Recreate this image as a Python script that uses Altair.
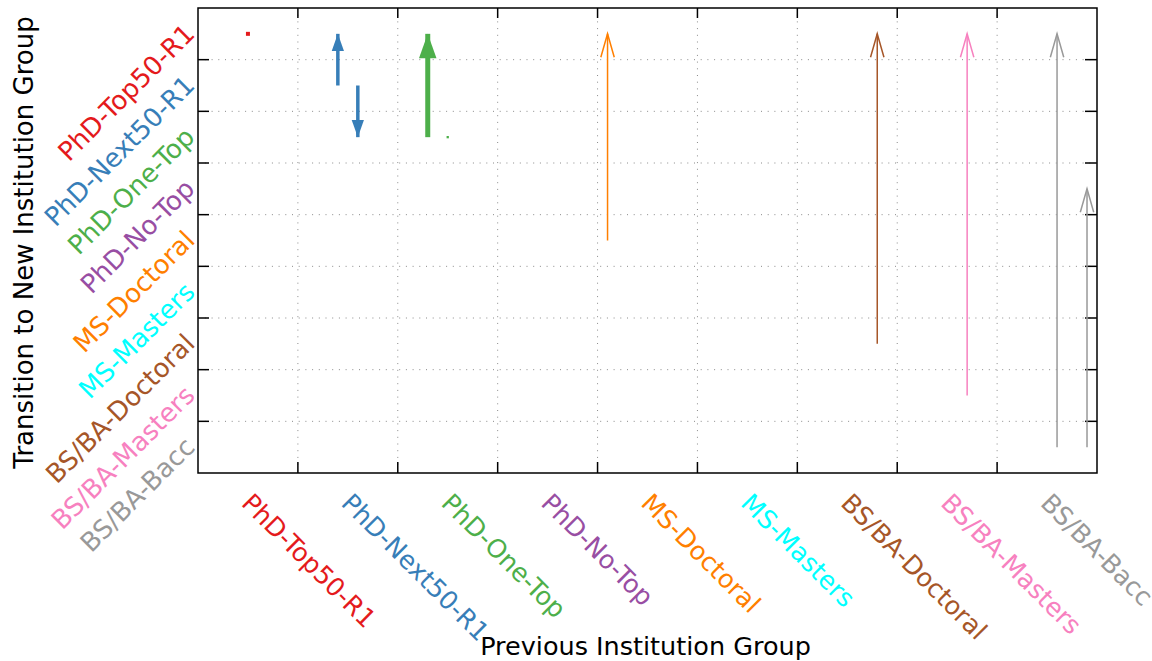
import altair as alt
import pandas as pd

# ---- data -------------------------------------------------------------
groups = ["PhD-Top50-R1", "PhD-Next50-R1", "PhD-One-Top", "PhD-No-Top",
          "MS-Doctoral", "MS-Masters", "BS/BA-Doctoral", "BS/BA-Masters",
          "BS/BA-Bacc"]
group_colors = ["#e41a1c", "#377eb8", "#4daf4a", "#984ea3", "#ff7f00",
                "#00ffff", "#a65628", "#f781bf", "#999999"]

arrow_from = ["PhD-Top50-R1", "PhD-Next50-R1", "PhD-Next50-R1", "PhD-One-Top",
              "PhD-One-Top", "MS-Doctoral", "BS/BA-Doctoral", "BS/BA-Masters",
              "BS/BA-Bacc", "BS/BA-Bacc"]
arrow_to = ["PhD-Top50-R1", "PhD-Top50-R1", "PhD-One-Top", "PhD-Top50-R1",
            "PhD-One-Top", "PhD-Top50-R1", "PhD-Top50-R1", "PhD-Top50-R1",
            "PhD-Top50-R1", "PhD-No-Top"]
arrow_x = [0.5, 1.4, 1.6, 2.3, 2.5, 4.1, 6.8, 7.7, 8.6, 8.9]
arrow_weight = [4, 3.5, 3.5, 5, 2.3, 1.5, 1.5, 1.5, 1.5, 1.5]
arrow_head = ["none", "filled", "filled", "filled", "none",
              "open", "open", "open", "open", "open"]

tick_values = [1, 2, 3, 4, 5, 6, 7, 8]

# ---- derived tables ---------------------------------------------------
n = len(groups)
row = {g: (n - 0.5) - i for i, g in enumerate(groups)}

arrows = pd.DataFrame({
    "from": arrow_from, "to": arrow_to, "x": arrow_x,
    "w": arrow_weight, "head": arrow_head,
})
arrows["y1"] = arrows["from"].map(row)
arrows["y2"] = arrows["to"].map(row)
arrows["angle"] = [0 if b >= a else 180 for a, b in zip(arrows["y1"], arrows["y2"])]
arrows["dot"] = (arrows["w"] ** 2)
arrows["hsize"] = (2 * 1.75 * arrows["w"]) ** 2

lines = arrows[arrows["y1"] != arrows["y2"]]
dots = arrows[arrows["y1"] == arrows["y2"]]
filled_heads = arrows[arrows["head"] == "filled"]
open_heads = arrows[arrows["head"] == "open"]

labels = pd.DataFrame({"g": groups})
labels["xc"] = [i + 0.5 for i in range(n)]
labels["yc"] = labels["g"].map(row)

ticks = pd.DataFrame({"t": tick_values})

W, H = 899, 465
FONT = "DejaVu Sans"

xs = alt.Scale(domain=[0, n], nice=False, zero=False)
ys = alt.Scale(domain=[0, n], nice=False, zero=False)
cs = alt.Scale(domain=groups, range=group_colors)

# ---- layers -----------------------------------------------------------
grid_h = alt.Chart(ticks).mark_rule(color="#8a8a8a", strokeDash=[1, 5.7], strokeWidth=1).encode(
    y=alt.Y("t:Q", scale=ys, axis=None))
grid_v = alt.Chart(ticks).mark_rule(color="#8a8a8a", strokeDash=[1, 5.7], strokeWidth=1).encode(
    x=alt.X("t:Q", scale=xs, axis=None))

tick_l = alt.Chart(ticks).mark_rule(color="black", strokeWidth=1.5).encode(
    y=alt.Y("t:Q", scale=ys, axis=None), x=alt.value(0), x2=alt.value(11))
tick_r = alt.Chart(ticks).mark_rule(color="black", strokeWidth=1.5).encode(
    y=alt.Y("t:Q", scale=ys, axis=None), x=alt.value(W - 12), x2=alt.value(W))
tick_b = alt.Chart(ticks).mark_rule(color="black", strokeWidth=1.5).encode(
    x=alt.X("t:Q", scale=xs, axis=None), y=alt.value(H - 11), y2=alt.value(H))
tick_t = alt.Chart(ticks).mark_rule(color="black", strokeWidth=1.5).encode(
    x=alt.X("t:Q", scale=xs, axis=None), y=alt.value(0), y2=alt.value(10))

shafts = alt.Chart(lines).mark_rule(strokeCap="butt").encode(
    x=alt.X("x:Q", scale=xs, axis=None),
    y=alt.Y("y1:Q", scale=ys, axis=None),
    y2="y2:Q",
    strokeWidth=alt.StrokeWidth("w:Q", scale=None),
    color=alt.Color("from:N", scale=cs, legend=None),
)

dot_marks = alt.Chart(dots).mark_square(filled=True, opacity=1).encode(
    x=alt.X("x:Q", scale=xs, axis=None),
    y=alt.Y("y1:Q", scale=ys, axis=None),
    size=alt.Size("dot:Q", scale=None),
    color=alt.Color("from:N", scale=cs, legend=None),
)

filled_marks = alt.Chart(filled_heads).mark_point(
    shape="M0,0L1,2.8L-1,2.8Z", filled=True, opacity=1, strokeWidth=0).encode(
    x=alt.X("x:Q", scale=xs, axis=None),
    y=alt.Y("y2:Q", scale=ys, axis=None),
    size=alt.Size("hsize:Q", scale=None),
    angle=alt.Angle("angle:Q", scale=None),
    color=alt.Color("from:N", scale=cs, legend=None),
)

open_marks = alt.Chart(open_heads).mark_point(
    shape="M-1,3.5L0,0L1,3.5", filled=False, opacity=1, strokeWidth=1.5,
    strokeCap="butt", strokeJoin="miter", size=180).encode(
    x=alt.X("x:Q", scale=xs, axis=None),
    y=alt.Y("y2:Q", scale=ys, axis=None),
    angle=alt.Angle("angle:Q", scale=None),
    color=alt.Color("from:N", scale=cs, legend=None),
)

xlab = alt.Chart(labels).mark_text(
    angle=45, align="left", baseline="middle", font=FONT, fontSize=25.5,
    dx=-3, dy=0).encode(
    x=alt.X("xc:Q", scale=xs, axis=None),
    y=alt.value(H + 28),
    text="g:N",
    color=alt.Color("g:N", scale=cs, legend=None),
)

ylab = alt.Chart(labels).mark_text(
    angle=315, align="right", baseline="middle", font=FONT, fontSize=26,
    dx=2, dy=-4).encode(
    y=alt.Y("yc:Q", scale=ys, axis=None),
    x=alt.value(-6),
    text="g:N",
    color=alt.Color("g:N", scale=cs, legend=None),
)

xtitle = alt.Chart(pd.DataFrame({"t": ["Previous Institution Group"]})).mark_text(
    align="center", baseline="alphabetic", font=FONT, fontSize=25.5, color="black").encode(
    x=alt.value(W / 2 - 2), y=alt.value(647), text="t:N")

ytitle = alt.Chart(pd.DataFrame({"t": ["Transition to New Institution Group"]})).mark_text(
    angle=270, align="center", baseline="middle", font=FONT, fontSize=26, color="black").encode(
    x=alt.value(-173), y=alt.value(H / 2 + 2), text="t:N")

chart = alt.layer(
    grid_h, grid_v, tick_l, tick_r, tick_b, tick_t,
    shafts, dot_marks, filled_marks, open_marks,
    xlab, ylab, xtitle, ytitle,
).properties(
    width=W, height=H,
    padding={"left": 198, "top": 8, "right": 55, "bottom": 188},
    autosize=alt.AutoSizeParams(type="none"),
    background="white",
).configure_view(
    stroke="black", strokeWidth=1.5
)

chart.save("out.html", embed_options={"renderer": "svg", "actions": False})
